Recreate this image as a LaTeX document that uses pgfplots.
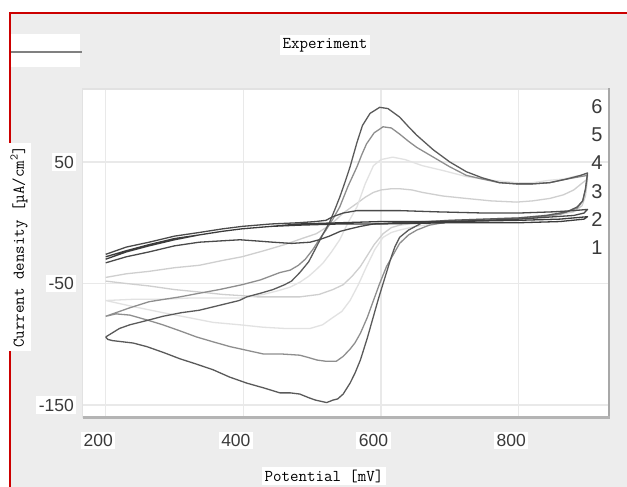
\documentclass[border=0pt]{standalone}
\usepackage{pgfplots}
\pgfplotsset{compat=1.18}
\usepackage{fontspec}
\setmainfont{Liberation Sans}
\newfontfamily\sansf{Liberation Sans}
\definecolor{redline}{HTML}{CC0000}
\definecolor{bgc}{HTML}{EDEDED}
\definecolor{gridc}{HTML}{E9E9E9}
\definecolor{txt}{HTML}{3A3A3A}
\definecolor{legline}{HTML}{808080}
\definecolor{frlight}{HTML}{E2E2E2}
\definecolor{frright}{HTML}{A8A8A8}
\definecolor{frbottom}{HTML}{B4B4B4}
\definecolor{cA}{HTML}{3C3C3C}
\definecolor{cB}{HTML}{4A4A4A}
\definecolor{cC}{HTML}{CFCFCF}
\definecolor{cD}{HTML}{E2E2E2}
\definecolor{cE}{HTML}{8E8E8E}
\definecolor{cF}{HTML}{5A5A5A}
\newcommand{\lbl}{\ttfamily\fontsize{16.5}{18}\selectfont}
\begin{document}
\begin{tikzpicture}[x=1pt,y=1pt]
\useasboundingbox (0,0) rectangle (627,487);
\fill[white] (0,0) rectangle (627,487);
\fill[bgc] (10.5,0) rectangle (627,472.5);
\draw[redline, line width=2pt] (9.5,0) -- (9.5,473.5) -- (627,473.5);
\fill[white] (11,420) rectangle (80,453);
\draw[legline, line width=1.5pt] (11,435) -- (82,435);
\node[fill=white, inner sep=3pt, text=black, font=\lbl] at (325,442) {Experiment};
\begin{axis}[
  at={(82.5pt,69.3pt)}, anchor=south west,
  scale only axis, width=526.5pt, height=328.7pt,
  xmin=166.3, xmax=931.2, ymin=-160.45, ymax=110.1,
  axis background/.style={fill=white},
  axis line style={draw=none},
  tick style={draw=none},
  xtick={200,400,600,800}, xticklabels={200,400,600,800},
  ytick={-150,-50,50}, yticklabels={-150,-50,50},
  grid=major, major grid style={line width=1.2pt, draw=gridc},
  tick label style={font=\sansf\fontsize{17.5}{18}\selectfont, text=txt, fill=white, inner sep=2.5pt},
  xticklabel style={anchor=center, yshift=-22.8pt, xshift=-7.5pt},
  yticklabel style={anchor=east, xshift=-6pt},
  every axis plot/.append style={line width=1.3pt, line join=round},
  clip=true,
]
% curve 3 (light)
\addplot[cC] coordinates {
(200,-45) (230,-42) (263,-40) (300,-37) (336,-35) (370,-31) (398,-28) (430,-23) (460,-18) (485,-13) (506,-9) (520,-4) (530,0) (545,8) (565,16) (577,21) (589,25) (600,27) (615,28) (627,28) (645,27) (660,25) (690,22) (724,20) (760,18) (797,17) (820,18) (845,20) (865,23) (880,27) (893,33) (900,36)
(897,22) (892,14) (880,9) (850,6) (800,4) (750,3) (700,2) (660,1) (640,-1) (627,-2) (615,-4) (603,-9) (590,-18) (580,-27) (570,-36) (558,-44) (545,-51) (530,-55) (510,-59) (482,-61) (450,-61) (420,-61) (398,-60) (370,-59) (336,-57) (300,-55) (263,-52) (230,-50) (200,-48)
};
% curve 4 (very light)
\addplot[cD] coordinates {
(200,-64) (240,-63) (283,-63) (320,-62) (356,-62) (395,-62) (429,-59) (450,-56) (468,-53) (482,-49) (495,-44) (505,-39) (516,-33) (528,-24) (540,-14) (552,0) (565,13) (577,32) (589,47) (600,52) (617,54) (635,52) (660,47) (690,43) (724,38) (760,35) (797,33) (820,33) (845,35) (865,36) (880,38) (900,40)
(897,26) (892,16) (880,10) (850,7) (800,4) (750,3) (700,1) (675,-1) (650,-3) (627,-6) (615,-8) (603,-12) (591,-22) (579,-36) (567,-51) (555,-64) (543,-73) (530,-78) (515,-84) (497,-87) (482,-87) (460,-87) (429,-86) (395,-84) (356,-82) (320,-78) (283,-74) (240,-69) (200,-64)
};
% curve 5 (medium gray)
\addplot[cE] coordinates {
(200,-77) (220,-73) (235,-70) (263,-65) (285,-63) (308,-61) (336,-58) (365,-55) (398,-51) (425,-47) (453,-41) (468,-39) (480,-35) (490,-30) (501,-22) (510,-14) (520,-6) (530,3) (540,13) (552,30) (565,46) (572,56) (579,65) (590,74) (603,79) (615,78) (627,73) (640,67) (652,62) (664,58) (676,54) (700,46) (724,39) (747,36) (772,33) (797,32) (820,32) (845,33) (870,36) (890,38) (900,39)
(897,27) (893,18) (885,12) (860,7) (820,4) (750,2) (700,1) (680,-1) (670,-2) (652,-6) (640,-10) (627,-17) (618,-26) (608,-36) (598,-50) (589,-64) (580,-78) (570,-91) (562,-99) (555,-104) (545,-110) (535,-114) (520,-114) (507,-113) (495,-111) (482,-109) (455,-108) (429,-108) (405,-105) (381,-102) (356,-98) (332,-94) (308,-89) (283,-84) (260,-80) (235,-76) (215,-75) (200,-77)
};
% curve 6 (dark gray)
\addplot[cF] coordinates {
(200,-94) (220,-87) (235,-84) (263,-80) (283,-77) (310,-74) (336,-72) (365,-68) (394,-64) (405,-61) (425,-58) (443,-55) (460,-51) (470,-48) (482,-41) (495,-32) (506,-20) (515,-10) (525,0) (533,11) (540,21) (548,34) (555,46) (565,66) (573,80) (584,90) (598,95) (610,94) (627,87) (640,79) (652,72) (664,66) (676,60) (700,50) (724,42) (747,37) (772,33) (797,32) (820,32) (845,33) (870,36) (890,39) (900,41)
(897,28) (893,18) (885,13) (870,9) (840,6) (800,4) (750,3) (700,2) (670,1) (660,0) (650,-3) (640,-6) (627,-12) (620,-20) (615,-28) (609,-39) (603,-50) (596,-63) (589,-77) (580,-95) (570,-113) (562,-124) (555,-132) (545,-141) (537,-145) (530,-146) (521,-148) (513,-147) (505,-146) (495,-144) (482,-141) (468,-140) (453,-140) (430,-136) (405,-132) (380,-127) (356,-121) (330,-116) (308,-112) (285,-107) (260,-102) (240,-99) (225,-98) (210,-97) (203,-96) (200,-94)
};
% curve 2
\addplot[cB] coordinates {
(200,-26) (230,-20) (263,-16) (300,-11) (336,-8) (370,-5) (398,-3) (440,-1) (480,0) (505,1) (520,2) (530,5) (545,8) (565,10) (600,10) (627,10) (680,9) (750,8) (800,8) (850,9) (880,10) (900,11)
(895,8) (880,6) (800,3) (700,1) (620,0) (589,-1) (570,-3) (555,-5) (541,-7) (525,-11) (510,-14) (497,-16) (470,-17) (443,-16) (420,-15) (395,-14) (365,-15) (336,-16) (300,-19) (263,-24) (230,-28) (200,-33)
};
% curve 1
\addplot[cA] coordinates {
(200,-28) (230,-23) (263,-18) (300,-13) (336,-10) (370,-7) (398,-5) (440,-3) (480,-1) (540,0) (600,1) (700,1) (800,2) (860,3) (900,5)
(895,3) (860,1) (800,0) (700,0) (600,-1) (540,-1) (480,-2) (440,-3) (398,-5) (370,-7) (336,-10) (300,-14) (263,-19) (230,-24) (200,-30)
};
\end{axis}
\draw[frlight, line width=1.2pt] (82.5,69.3) -- (82.5,398) -- (609,398);
\draw[frright, line width=2pt] (609,68.3) -- (609,399);
\draw[frbottom, line width=2.5pt] (82.5,69.3) -- (610,69.3);
\begin{scope}[every node/.style={text=txt, font=\sansf\fontsize{20}{22}\selectfont, inner sep=0pt}]
\node at (597,380) {6};
\node at (597,352) {5};
\node at (597,324) {4};
\node at (597,295) {3};
\node at (597,267) {2};
\node at (597,239) {1};
\end{scope}
\node[fill=white, inner sep=2.5pt, text=black, font=\lbl] at (324,11) {Potential [mV]};
\node[fill=white, inner sep=3pt, text=black, rotate=90, font=\lbl] at (19,240) {Current density [µA/cm\textsuperscript{2}]};
\end{tikzpicture}
\end{document}
